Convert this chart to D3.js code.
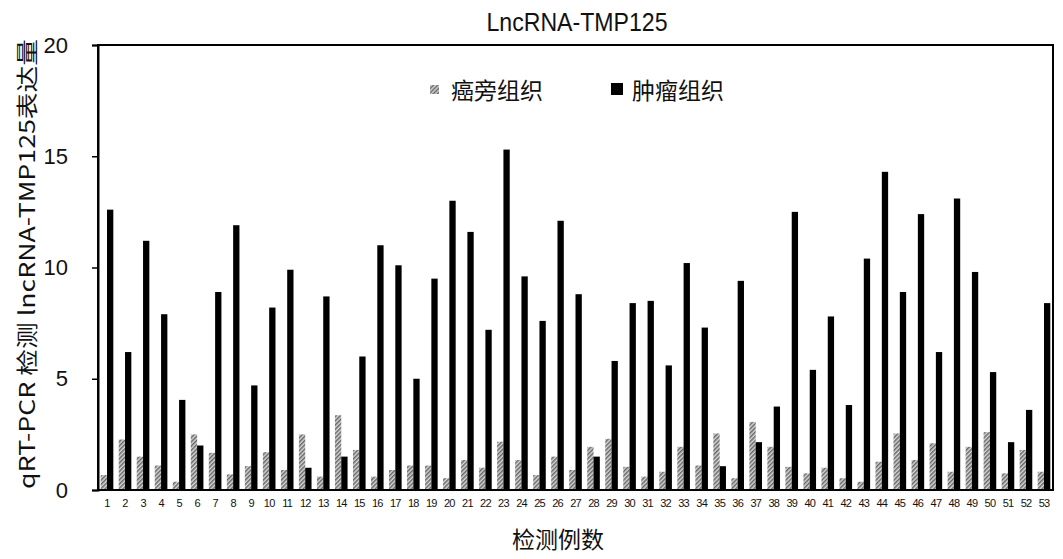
<!DOCTYPE html>
<html>
<head>
<meta charset="utf-8">
<script src="https://cdn.jsdelivr.net/npm/d3@7"></script>
<style>
  body { margin: 0; background: #fff; }
  text { font-family: "Liberation Sans", Arial, "Noto Sans CJK SC", sans-serif; fill: #111; }
  .cjk { font-family: "Noto Sans CJK SC", sans-serif; }
</style>
</head>
<body>
<div id="main"></div>
<script>
// sample numbers 1..53
const cases = d3.range(1, 54).map(String);
const seriesNames = ["癌旁组织", "肿瘤组织"];

// para-cancerous tissue (gray)
const adjacent = [0.67, 2.27, 1.5, 1.1, 0.37, 2.5, 1.67, 0.7, 1.07, 1.7,
  0.9, 2.5, 0.6, 3.36, 1.8, 0.6, 0.9, 1.1, 1.1, 0.53,
  1.35, 1.0, 2.17, 1.35, 0.67, 1.5, 0.9, 1.94, 2.3, 1.04,
  0.6, 0.82, 1.94, 1.1, 2.54, 0.53, 3.06, 1.94, 1.04, 0.75,
  1.0, 0.53, 0.37, 1.27, 2.54, 1.35, 2.1, 0.82, 1.94, 2.6,
  0.75, 1.8, 0.82];

// tumour tissue (black)
const tumour = [12.6, 6.2, 11.2, 7.9, 4.05, 2.0, 8.9, 11.9, 4.7, 8.2,
  9.9, 1.0, 8.7, 1.5, 6.0, 11.0, 10.1, 5.0, 9.5, 13.0,
  11.6, 7.2, 15.3, 9.6, 7.6, 12.1, 8.8, 1.5, 5.8, 8.4,
  8.5, 5.6, 10.2, 7.3, 1.07, 9.4, 2.15, 3.75, 12.5, 5.4,
  7.8, 3.82, 10.4, 14.3, 8.9, 12.4, 6.2, 13.1, 9.8, 5.3,
  2.15, 3.6, 8.4];

const yTicks = [0, 5, 10, 15, 20];

const cfg = { width: 1063, height: 559, left: 98, right: 1053, top: 45, bottom: 490 };

const svg = d3.select("#main").append("svg")
  .attr("width", cfg.width)
  .attr("height", cfg.height);

const defs = svg.append("defs");
const pat = defs.append("pattern")
  .attr("id", "hatch")
  .attr("patternUnits", "userSpaceOnUse")
  .attr("width", 3).attr("height", 3)
  .attr("patternTransform", "rotate(45)");
pat.append("rect").attr("width", 3).attr("height", 3).attr("fill", "#d8d8d8");
pat.append("rect").attr("width", 1.5).attr("height", 3).attr("fill", "#666");

const x0 = d3.scaleBand().domain(cases).range([cfg.left, cfg.right]).paddingInner(0.3).paddingOuter(0.15);
const x1 = d3.scaleBand().domain(seriesNames).range([0, x0.bandwidth()]);
const y = d3.scaleLinear().domain([0, 20]).range([cfg.bottom, cfg.top]);

const rows = cases.map((c, i) => ({ c, vals: [adjacent[i], tumour[i]] }));

// bars
const groups = svg.append("g").selectAll("g")
  .data(rows)
  .join("g")
  .attr("transform", d => `translate(${x0(d.c)},0)`);

groups.selectAll("rect")
  .data(d => d.vals.map((v, k) => ({ k, v })))
  .join("rect")
  .attr("x", d => x1(seriesNames[d.k]))
  .attr("width", x1.bandwidth())
  .attr("y", d => y(d.v))
  .attr("height", d => y(0) - y(d.v))
  .attr("fill", d => d.k === 0 ? "url(#hatch)" : "#000");

// frame
svg.append("rect")
  .attr("x", cfg.left).attr("y", cfg.top)
  .attr("width", cfg.right - cfg.left).attr("height", cfg.bottom - cfg.top)
  .attr("fill", "none").attr("stroke", "#000").attr("stroke-width", 2);

// y axis
const yAxis = d3.axisLeft(y).tickValues(yTicks).tickSize(6).tickPadding(24);
const ya = svg.append("g").attr("transform", `translate(${cfg.left},0)`).call(yAxis);
ya.select(".domain").attr("stroke-width", 2);
ya.selectAll(".tick line").attr("stroke-width", 1.5);
ya.selectAll("text").style("font-size", "22px").attr("fill", "#111");

// x axis
const xAxis = d3.axisBottom(x0).tickSize(0).tickPadding(9);
const xa = svg.append("g").attr("transform", `translate(0,${cfg.bottom})`).call(xAxis);
xa.select(".domain").remove();
xa.selectAll("text").style("font-size", "11px").attr("fill", "#111")
  .attr("letter-spacing", "-0.8px");

// title
svg.append("text")
  .attr("x", 577).attr("y", 31)
  .attr("text-anchor", "middle")
  .attr("textLength", 181).attr("lengthAdjust", "spacingAndGlyphs")
  .style("font-size", "26px")
  .text("LncRNA-TMP125");

// legend
const lg = svg.append("g");
lg.append("rect").attr("x", 430).attr("y", 85).attr("width", 9).attr("height", 9).attr("fill", "url(#hatch)");
lg.append("text").attr("class", "cjk").attr("x", 451).attr("y", 99).style("font-size", "23px").attr("fill", "#333").text(seriesNames[0]);
lg.append("rect").attr("x", 611).attr("y", 83).attr("width", 12).attr("height", 12).attr("fill", "#000");
lg.append("text").attr("class", "cjk").attr("x", 632).attr("y", 99).style("font-size", "23px").attr("fill", "#333").text(seriesNames[1]);

// axis titles
svg.append("text")
  .attr("class", "cjk")
  .attr("transform", "translate(35,264) rotate(-90)")
  .attr("text-anchor", "middle")
  .attr("textLength", 450).attr("lengthAdjust", "spacingAndGlyphs")
  .style("font-size", "22px")
  .attr("fill", "#222")
  .text("qRT-PCR 检测 lncRNA-TMP125表达量");

svg.append("text")
  .attr("class", "cjk")
  .attr("x", 558).attr("y", 548)
  .attr("text-anchor", "middle")
  .style("font-size", "23px")
  .attr("fill", "#333")
  .text("检测例数");
</script>
</body>
</html>
